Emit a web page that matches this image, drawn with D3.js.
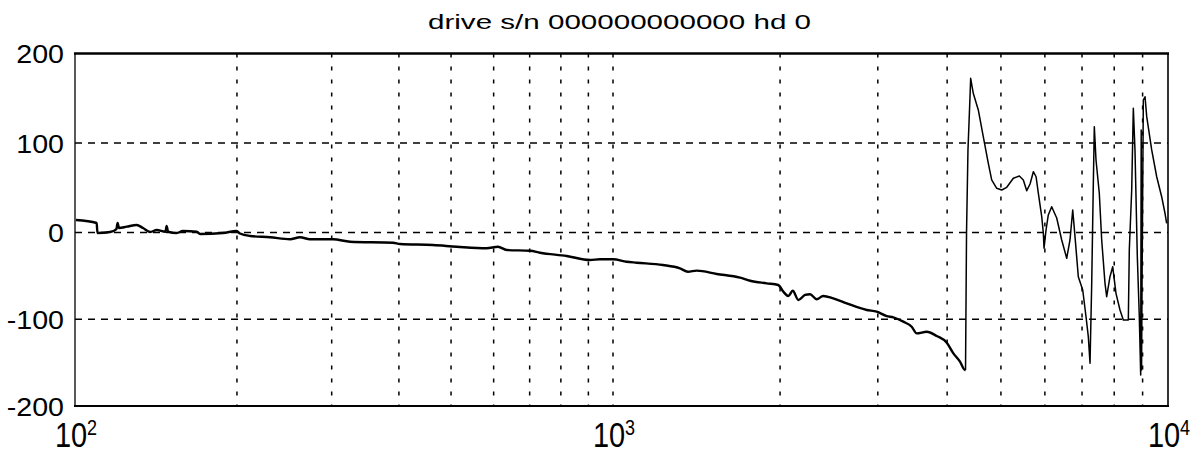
<!DOCTYPE html>
<html>
<head>
<meta charset="utf-8">
<script src="https://cdn.jsdelivr.net/npm/d3@7"></script>
<style>
  html, body { margin: 0; padding: 0; background: #fff; }
  svg { display: block; }
  text { font-family: "Liberation Sans", Arial, Helvetica, sans-serif; fill: #000; }
</style>
</head>
<body>
<svg id="chart" width="1204" height="455"></svg>
<script>
// ---- data ----
const title = "drive s/n 000000000000 hd 0";

const freqHz = [
  100.4, 109.7, 110.1, 116.2, 119.4, 120.0, 120.7, 124.8, 130.2, 133.8,
  137.9, 141.9, 147.3, 148.0, 148.9, 154.5, 158.7, 168.4, 170.8, 188.4,
  199.8, 202.6, 211.5, 230.4, 250.9, 262.0, 273.4, 301.7, 324.5, 390.1,
  402.0, 462.8, 512.4, 582.4, 611.3, 634.6, 701.2, 731.9, 820.2, 906.3,
  945.9, 1000, 1058, 1103, 1230, 1320, 1365, 1415, 1538, 1694,
  1766, 1892, 1985, 2027, 2070, 2108, 2158, 2218, 2265, 2328,
  2392, 2494, 2637, 2865, 2986, 3113, 3199, 3335, 3453, 3526,
  3675, 3831, 3994, 4105, 4219, 4308, 4317, 4335, 4361, 4397,
  4410, 4458, 4552, 4647, 4745, 4812, 4914, 5017, 5122, 5264,
  5397, 5487, 5565, 5642, 5720, 5785, 5840, 5922, 5962, 5979,
  6029, 6086, 6172, 6302, 6434, 6569, 6659, 6735, 6799, 6893,
  7020, 7117, 7185, 7236, 7287, 7336, 7366, 7418, 7520, 7595,
  7700, 7754, 7861, 7950, 8059, 8194, 8308, 8482, 8517, 8602,
  8660, 8720, 8805, 8878, 8929, 8948, 8962, 8979, 9027, 9091,
  9155, 9346, 9542, 9741, 9876, 9945
];

const phaseDeg = [
  14.0, 10.6, -0.6, 0.6, 3.9, 10.6, 5.0, 6.5, 8.4, 5.0,
  0.6, 2.8, 0.9, 7.3, 1.1, -0.6, 1.7, 0.9, -1.7, -0.6,
  1.7, -1.2, -4.0, -5.5, -7.8, -5.5, -7.8, -7.8, -10.6, -11.8,
  -13.3, -14.4, -16.4, -18.2, -16.4, -20.2, -21.0, -23.3, -27.1, -31.7,
  -30.9, -30.9, -33.7, -34.8, -37.5, -41.3, -45.2, -44.0, -47.8, -52.1,
  -55.6, -58.6, -60.5, -68.2, -73.2, -67.1, -77.8, -72.0, -71.2, -77.0,
  -73.2, -75.9, -81.6, -89.3, -91.3, -96.3, -97.8, -102.8, -108.6, -116.3,
  -114.4, -119.3, -127.0, -139.3, -148.9, -158.5, -158.5, -0.6, 92.2, 149.9,
  172.3, 155.5, 136.9, 107.0, 77.3, 58.7, 49.4, 47.5, 50.5, 60.6,
  63.1, 58.7, 46.7, 54.2, 67.9, 62.3, 43.8, 17.7, -0.9, -18.2,
  2.8, 19.6, 28.8, 16.2, -8.6, -29.7, -8.6, 25.1, -4.8, -51.0,
  -66.3, -97.1, -120.1, -150.8, -58.6, 55.0, 118.2, 81.0, 43.8, -8.6,
  -58.6, -74.0, -51.0, -39.4, -70.1, -89.3, -100.9, -100.9, -20.2, 47.5,
  138.8, 92.2, -27.9, -97.1, -164.3, 114.5, -158.5, -58.6, 148.0, 151.7,
  129.4, 92.2, 62.3, 40.0, 21.5, 10.3
];

const xGridValues = [200, 300, 400, 500, 600, 700, 800, 900, 1000,
                     2000, 3000, 4000, 5000, 6000, 7000, 8000, 9000];
const xTickValues = [100, 1000, 10000];
const xTickBase = ["10", "10", "10"];
const xTickExp = ["2", "3", "4"];
const yTickValues = [-200, -100, 0, 100, 200];
const yTickLabels = ["-200", "-100", "0", "100", "200"];
const yGridValues = [-100, 0, 100];
const splitFreq = 4317; // where the trace gets thinner in the scan

// ---- layout ----
const svg = d3.select("#chart");
const x = d3.scaleLog().domain([100, 1000, 10000]).range([75, 613, 1168]);
const y = d3.scaleLinear().domain([-200, 0, 200]).range([406, 232.5, 53.5]);

const pts = freqHz.map((f, i) => ({ f, p: phaseDeg[i] }));

// grid
const g = svg.append("g");
g.selectAll("line.vg").data(xGridValues).join("line")
  .attr("class", "vg")
  .attr("x1", d => x(d)).attr("x2", d => x(d))
  .attr("y1", y(200)).attr("y2", y(-200))
  .attr("stroke", "#000").attr("stroke-width", 1.5)
  .attr("stroke-dasharray", "4,9");

g.selectAll("line.hg").data(yGridValues).join("line")
  .attr("class", "hg")
  .attr("x1", x(100)).attr("x2", x(10000))
  .attr("y1", d => y(d)).attr("y2", d => y(d))
  .attr("stroke", "#000").attr("stroke-width", 1.7)
  .attr("stroke-dasharray", "7,6");

// trace
const cut = pts.findIndex(d => d.f >= splitFreq);
const smooth = d3.line().x(d => x(d.f)).y(d => y(d.p)).curve(d3.curveMonotoneX);
const sharp = d3.line().x(d => x(d.f)).y(d => y(d.p));
svg.append("path")
  .datum(pts.slice(0, cut + 1))
  .attr("d", smooth)
  .attr("fill", "none").attr("stroke", "#000")
  .attr("stroke-width", 2.4).attr("stroke-linejoin", "round");
svg.append("path")
  .datum(pts.slice(cut))
  .attr("d", sharp)
  .attr("fill", "none").attr("stroke", "#000")
  .attr("stroke-width", 1.5).attr("stroke-linejoin", "round");

// frame
const fr = svg.append("g").attr("stroke", "#000");
fr.append("line").attr("x1", x(100) - 1).attr("x2", x(10000) + 1)
  .attr("y1", y(200)).attr("y2", y(200)).attr("stroke-width", 2.6);
fr.append("line").attr("x1", x(100) - 1).attr("x2", x(10000) + 1)
  .attr("y1", y(-200)).attr("y2", y(-200)).attr("stroke-width", 2.2);
fr.append("line").attr("x1", x(100)).attr("x2", x(100))
  .attr("y1", y(200)).attr("y2", y(-200)).attr("stroke-width", 1.3);
fr.append("line").attr("x1", x(10000)).attr("x2", x(10000))
  .attr("y1", y(200)).attr("y2", y(-200)).attr("stroke-width", 1.6);

// y tick labels
svg.append("g").selectAll("text").data(yTickValues).join("text")
  .attr("text-anchor", "end")
  .attr("font-size", 26)
  .attr("transform", d => `translate(64,${y(d) + 9.5}) scale(1.1,1)`)
  .text((d, i) => yTickLabels[i]);

// x tick labels (10^n)
const xl = svg.append("g").selectAll("text").data(xTickValues).join("text")
  .attr("text-anchor", "middle")
  .attr("font-size", 29)
  .attr("transform", d => `translate(${x(d) + 1},447) scale(1,1.22)`);
xl.append("tspan").text((d, i) => xTickBase[i]);
xl.append("tspan").attr("dy", -10).attr("font-size", 18).text((d, i) => xTickExp[i]);

// title
svg.append("text")
  .attr("x", 428).attr("y", 29)
  .attr("font-size", 19.5)
  .attr("textLength", 383)
  .attr("lengthAdjust", "spacingAndGlyphs")
  .text(title);
</script>
</body>
</html>
